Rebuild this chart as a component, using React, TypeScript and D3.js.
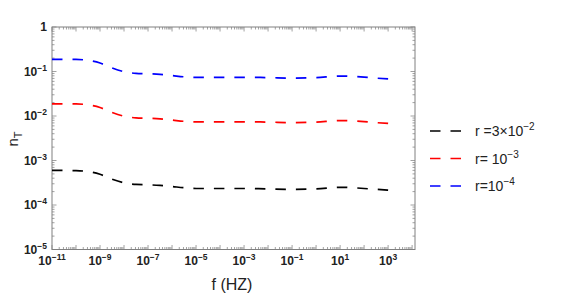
import React, { useEffect, useRef } from 'react'
import * as d3 from 'd3'

// frequency samples (Hz) and n_T
const freqs = [1e-11, 1e-10, 3.16e-10, 1e-9, 3.16e-9, 1e-8, 3.16e-8, 1e-7, 3.16e-7, 1e-6, 3.16e-6, 1e-5, 1e-4, 1e-3, 1e-2, 1e-1, 1, 10, 31.6, 100, 316, 1000]
const nBlack = [6.0e-4, 5.9e-4, 5.65e-4, 4.9e-4, 3.8e-4, 3.15e-4, 2.9e-4, 2.85e-4, 2.75e-4, 2.6e-4, 2.45e-4, 2.35e-4, 2.35e-4, 2.35e-4, 2.3e-4, 2.25e-4, 2.3e-4, 2.5e-4, 2.45e-4, 2.35e-4, 2.25e-4, 2.15e-4]
const nRed = [0.0188, 0.0187, 0.0178, 0.0155, 0.012, 0.0099, 0.0091, 0.0089, 0.0086, 0.0081, 0.0076, 0.0074, 0.0074, 0.0074, 0.0073, 0.0071, 0.0073, 0.0079, 0.0078, 0.0075, 0.0071, 0.0068]
const nBlue = [0.188, 0.187, 0.178, 0.155, 0.12, 0.099, 0.091, 0.089, 0.086, 0.081, 0.076, 0.074, 0.074, 0.074, 0.073, 0.071, 0.073, 0.079, 0.078, 0.075, 0.071, 0.068]

const seriesColors = ['#000000', '#ff0000', '#0000ff']
const legendBase = ['r =3\u00d710', 'r= 10', 'r=10']
const legendExp = ['\u22122', '\u22123', '\u22124']

const xLabelExps = [-11, -9, -7, -5, -3, -1, 1, 3]
const yLabelExps = [0, -1, -2, -3, -4, -5]

const W = 571, H = 297
const m = { left: 52, right: 415, top: 27, bottom: 249.5 }
const FONT = '"Liberation Sans", Arial, sans-serif'

export default function App() {
  const ref = useRef<SVGSVGElement>(null)

  useEffect(() => {
    const svg = d3.select(ref.current)
    svg.selectAll('*').remove()

    const x = d3.scaleLog().domain([1e-11, Math.pow(10, 4.12)]).range([m.left, m.right])
    const y = d3.scaleLog().domain([1e-5, 1]).range([m.bottom, m.top])

    svg.append('rect').attr('width', W).attr('height', H).attr('fill', '#fff')

    // clip for the curves
    svg.append('defs').append('clipPath').attr('id', 'plotClip')
      .append('rect').attr('x', m.left).attr('y', m.top)
      .attr('width', m.right - m.left).attr('height', m.bottom - m.top)

    const tickColor = '#8a8a8a'
    const g = svg.append('g')

    // x ticks (bottom and top, pointing in)
    const xTicks: { v: number; major: boolean }[] = []
    for (let e = -11; e <= 4; e++) {
      for (let k = 1; k <= 9; k++) {
        const v = k * Math.pow(10, e)
        if (v <= x.domain()[1]) xTicks.push({ v, major: k === 1 })
      }
    }
    xTicks.forEach(t => {
      const px = x(t.v)
      const len = t.major ? 4.5 : 2.5
      g.append('line').attr('x1', px).attr('x2', px).attr('y1', m.bottom).attr('y2', m.bottom - len)
        .attr('stroke', tickColor).attr('stroke-width', 0.8)
      g.append('line').attr('x1', px).attr('x2', px).attr('y1', m.top).attr('y2', m.top + len)
        .attr('stroke', tickColor).attr('stroke-width', 0.8)
    })

    // y ticks (left and right)
    const yTicks: { v: number; major: boolean }[] = []
    for (let e = -5; e <= 0; e++) {
      for (let k = 1; k <= 9; k++) {
        const v = k * Math.pow(10, e)
        if (v <= 1) yTicks.push({ v, major: k === 1 })
      }
    }
    yTicks.forEach(t => {
      const py = y(t.v)
      const len = t.major ? 4.5 : 2.5
      g.append('line').attr('x1', m.left).attr('x2', m.left + len).attr('y1', py).attr('y2', py)
        .attr('stroke', tickColor).attr('stroke-width', 0.8)
      g.append('line').attr('x1', m.right).attr('x2', m.right - len).attr('y1', py).attr('y2', py)
        .attr('stroke', tickColor).attr('stroke-width', 0.8)
    })

    // frame
    g.append('rect').attr('x', m.left).attr('y', m.top)
      .attr('width', m.right - m.left).attr('height', m.bottom - m.top)
      .attr('fill', 'none').attr('stroke', '#808080').attr('stroke-width', 1)

    // x tick labels
    xLabelExps.forEach(e => {
      const t = g.append('text').attr('x', x(Math.pow(10, e))).attr('y', 265)
        .attr('text-anchor', 'middle').attr('font-family', FONT).attr('font-size', 12)
        .attr('font-weight', 'bold').attr('fill', '#222')
      t.append('tspan').text('10')
      t.append('tspan').attr('dy', -5).attr('font-size', 8.5).text(e < 0 ? '\u2212' + (-e) : String(e))
    })

    // y tick labels
    yLabelExps.forEach(e => {
      const t = g.append('text').attr('x', 47).attr('y', y(Math.pow(10, e)) + 4)
        .attr('text-anchor', 'end').attr('font-family', FONT).attr('font-size', 12)
        .attr('font-weight', 'bold').attr('fill', '#222')
      if (e === 0) {
        t.text('1')
      } else {
        t.append('tspan').text('10')
        t.append('tspan').attr('dy', -5).attr('font-size', 8.5).text('\u2212' + (-e))
      }
    })

    // axis titles
    const yt = g.append('text').attr('transform', 'translate(18,139) rotate(-90)')
      .attr('text-anchor', 'middle').attr('font-family', FONT).attr('font-size', 15).attr('fill', '#222')
    yt.append('tspan').text('n')
    yt.append('tspan').attr('dy', 4).attr('font-size', 11).text('T')

    g.append('text').attr('x', 232).attr('y', 290).attr('text-anchor', 'middle')
      .attr('font-family', FONT).attr('font-size', 16).attr('fill', '#222').text('f (HZ)')

    // curves
    const series = [nBlack, nRed, nBlue]
    const line = d3.line<number>()
      .x((_, i) => x(freqs[i]))
      .y(d => y(d))
      .curve(d3.curveMonotoneX)
    const curves = svg.append('g').attr('clip-path', 'url(#plotClip)')
    series.forEach((s, i) => {
      curves.append('path').attr('d', line(s) as string)
        .attr('fill', 'none').attr('stroke', seriesColors[i])
        .attr('stroke-width', 1.7).attr('stroke-dasharray', '10.5,10')
    })

    // legend
    const legendY = [131, 158.5, 186]
    legendBase.forEach((label, i) => {
      const lg = svg.append('g')
      lg.append('line').attr('x1', 430).attr('x2', 461).attr('y1', legendY[i]).attr('y2', legendY[i])
        .attr('stroke', seriesColors[i]).attr('stroke-width', 1.7).attr('stroke-dasharray', '10.5,10')
      const t = lg.append('text').attr('x', 475).attr('y', legendY[i] + 5)
        .attr('font-family', FONT).attr('font-size', 14).attr('fill', '#222')
      t.append('tspan').text(label)
      t.append('tspan').attr('dy', -6).attr('font-size', 10).text(legendExp[i])
    })
  }, [])

  return (
    <svg ref={ref} width={W} height={H} style={{ position: 'absolute', left: 0, top: 0 }}></svg>
  )
}
